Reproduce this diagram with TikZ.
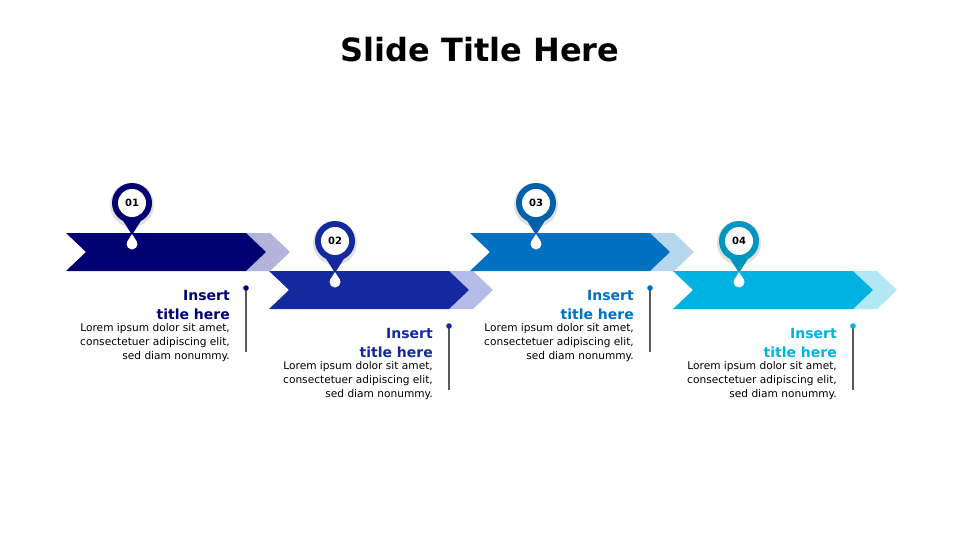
\documentclass[tikz,border=0pt]{standalone}
\usepackage{fontspec}
\setmainfont{DejaVu Sans}
\usetikzlibrary{positioning}
\definecolor{cA}{RGB}{0,0,115}
\definecolor{cB}{RGB}{20,40,160}
\definecolor{cC}{RGB}{0,112,192}
\definecolor{cD}{RGB}{0,178,226}
\definecolor{pA}{RGB}{180,180,218}
\definecolor{pB}{RGB}{180,188,232}
\definecolor{pC}{RGB}{182,214,238}
\definecolor{pD}{RGB}{178,232,246}
\definecolor{rC}{RGB}{0,96,168}
\definecolor{rD}{RGB}{0,150,190}
\tikzset{
  steptitle/.style={align=right, anchor=north east, font=\bfseries\fontsize{14}{19}\selectfont, inner sep=0pt},
  stepbody/.style={align=right, anchor=north east, font=\fontsize{10.6}{14}\selectfont, inner sep=0pt},
  pinnum/.style={font=\bfseries\fontsize{10}{11}\selectfont}
}
\begin{document}
\begin{tikzpicture}[x=1pt, y=-1pt]
\useasboundingbox (0,0) rectangle (960,540);
\node [font=\bfseries\fontsize{32}{38}\selectfont] (title) at (480,50) {Slide Title Here};

\foreach \n/\x/\y/\c/\p/\r in {01/66/233/cA/pA/cA, 02/269/271/cB/pB/cB, 03/470/233/cC/pC/rC, 04/673/271/cD/pD/rD} {
  % arrow band with pale chevron
  \fill [\p] (\x+180,\y) -- (\x+204,\y) -- (\x+224,\y+19) -- (\x+204,\y+38) -- (\x+180,\y+38) -- (\x+200,\y+19) -- cycle;
  \fill [\c] (\x,\y) -- (\x+180,\y) -- (\x+200,\y+19) -- (\x+180,\y+38) -- (\x,\y+38) -- (\x+20,\y+19) -- cycle;
  % pin
  \fill [black!12] (\x+66,\y-28) circle (22);
  \fill [\r] (\x+66,\y-30) circle (20);
  \fill [\r] (\x+56,\y-14) -- (\x+76,\y-14) -- (\x+66,\y+2) -- cycle;
  \fill [white] (\x+66,\y-30) circle (14);
  \fill [white] (\x+66,\y+11) circle (5.5);
  \fill [white] (\x+61,\y+9) -- (\x+66,\y+1) -- (\x+71,\y+9) -- cycle;
  \node [pinnum] (pin-\n) at (\x+66,\y-30) {\n};
  % text and marker
  \node [steptitle, text=\c] (head-\n) at (\x+164,\y+57) {Insert\\title here};
  \node [stepbody, below=3pt of head-\n.south east, anchor=north east] (body-\n) {Lorem ipsum dolor sit amet,\\consectetuer adipiscing elit,\\sed diam nonummy.};
  \coordinate (mark-\n) at (\x+180,\y+55);
  \coordinate (foot-\n) at (\x+180,\y+119);
  \draw [black!65, line width=1.2pt] (mark-\n) -- (foot-\n);
  \fill [\c] (mark-\n) circle (2.8);
}
\end{tikzpicture}
\end{document}
